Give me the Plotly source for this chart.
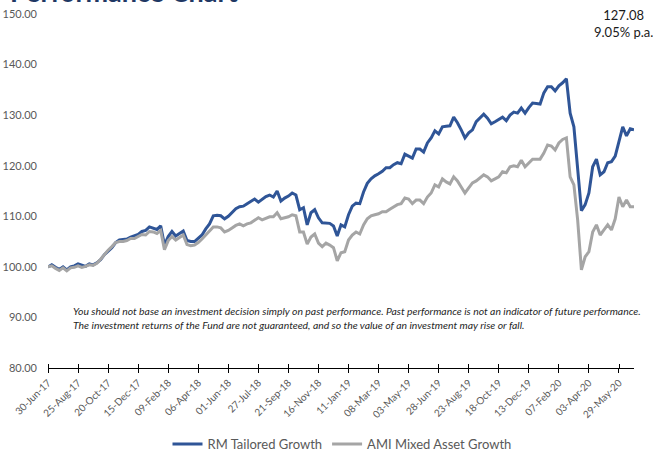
import pandas as pd
import plotly.graph_objects as go

# Weekly dates (Fridays) from 30-Jun-17 to 26-Jun-20
start_date = "2017-06-30"
n_weeks = 157

rm_tailored_growth = [
    100.0, 100.4, 99.9, 99.5, 100.0, 99.4, 100.0, 100.2, 100.6, 100.3,
    100.1, 100.6, 100.4, 100.8, 101.4, 102.4, 103.1, 103.8, 104.8, 105.3,
    105.4, 105.5, 105.9, 106.1, 106.4, 107.0, 107.2, 107.9, 107.6, 107.4,
    108.1, 104.3, 106.0, 107.0, 106.1, 106.6, 107.1, 105.2, 105.0, 105.0,
    105.7, 106.3, 107.5, 108.5, 110.1, 110.2, 110.1, 109.5, 110.0, 110.7,
    111.5, 111.9, 112.0, 112.5, 112.9, 113.4, 112.8, 113.4, 113.9, 114.2,
    113.8, 115.0, 113.0, 113.6, 114.0, 114.6, 114.2, 111.3, 111.7, 108.3,
    110.7, 111.3, 109.7, 108.7, 108.7, 108.6, 108.1, 106.1, 108.3, 107.9,
    110.3, 112.0, 112.6, 112.5, 114.8, 116.5, 117.4, 118.0, 118.4, 118.9,
    119.6, 119.6, 120.2, 120.6, 120.4, 122.3, 121.9, 121.5, 123.3, 123.3,
    122.7, 124.5, 125.5, 126.9, 126.3, 127.7, 127.8, 127.9, 129.6, 128.5,
    127.1, 125.5, 126.5, 127.1, 128.7, 129.4, 130.2, 129.4, 128.3, 128.7,
    129.1, 129.6, 128.9, 130.0, 130.6, 130.4, 131.4, 130.4, 131.5, 132.4,
    132.3, 132.2, 134.4, 135.6, 135.6, 134.8, 135.8, 136.4, 137.2, 130.4,
    127.7, 119.8, 111.1, 112.3, 114.6, 119.8, 121.3, 118.2, 118.8, 120.6,
    120.8, 121.9, 124.7, 127.7, 125.9, 127.3, 127.08,
]

ami_mixed_asset_growth = [
    100.0, 100.2, 99.7, 99.3, 99.8, 99.2, 99.8, 99.9, 100.2, 99.9,
    100.1, 100.4, 100.3, 100.7, 101.5, 102.5, 103.3, 104.0, 104.8, 105.0,
    105.0, 105.2, 105.6, 105.6, 106.0, 106.4, 106.3, 107.0, 106.9, 106.6,
    107.2, 103.4, 105.2, 106.0, 105.3, 105.8, 106.3, 104.4, 104.2, 104.3,
    104.8, 105.5, 106.3, 107.1, 107.9, 107.9, 107.7, 106.9, 107.2, 107.7,
    108.2, 108.5, 108.1, 108.5, 108.7, 109.2, 109.7, 109.3, 109.6, 109.9,
    109.9, 110.7, 109.5, 109.7, 109.9, 110.3, 110.1, 106.9, 106.9, 104.5,
    105.9, 106.5, 104.7, 104.0, 104.7, 104.3, 103.8, 101.2, 102.8, 103.0,
    105.3, 106.3, 106.9, 106.5, 108.3, 109.5, 110.1, 110.3, 110.5, 110.9,
    110.9, 111.4, 111.9, 112.3, 112.5, 113.6, 113.4, 112.5, 113.2, 113.2,
    112.5, 113.8, 114.6, 116.2, 115.8, 117.4, 116.8, 116.4, 117.8, 117.0,
    115.8, 114.6, 115.6, 116.6, 117.0, 117.6, 118.2, 117.8, 117.0, 117.4,
    117.8, 118.8, 118.6, 119.8, 120.0, 119.8, 121.1, 119.8, 120.6, 121.3,
    121.3, 121.3, 122.5, 124.1, 123.9, 123.1, 124.5, 125.2, 125.5, 117.8,
    116.2, 109.3, 99.4, 102.0, 103.0, 106.9, 108.3, 106.3, 107.3, 108.3,
    107.3, 109.5, 113.8, 111.9, 113.2, 111.9, 111.9,
]

tick_labels = [
    "30-Jun-17", "25-Aug-17", "20-Oct-17", "15-Dec-17", "09-Feb-18",
    "06-Apr-18", "01-Jun-18", "27-Jul-18", "21-Sep-18", "16-Nov-18",
    "11-Jan-19", "08-Mar-19", "03-May-19", "28-Jun-19", "23-Aug-19",
    "18-Oct-19", "13-Dec-19", "07-Feb-20", "03-Apr-20", "29-May-20",
]

ytick_vals = [80, 90, 100, 110, 120, 130, 140, 150]
ytick_text = ["80.00", "90.00", "100.00", "110.00", "120.00", "130.00", "140.00", "150.00"]

dates = pd.date_range(start_date, periods=n_weeks, freq="7D")
tick_dates = pd.to_datetime(tick_labels, format="%d-%b-%y")
minor_dates = [d + pd.Timedelta(hours=2) for d in tick_dates]

BLUE = "#2F5597"
GREY = "#A5A5A5"
TXT = "#595959"
FONT = "Lato, 'Open Sans', sans-serif"

W, H = 653, 452
ML, MR, MT, MB = 48, 19, 14, 84
PW, PH = W - ML - MR, H - MT - MB


def px_x(x):
    return (x - ML) / PW


def px_y(y):
    return (H - MB - y) / PH


fig = go.Figure()
fig.add_trace(go.Scatter(x=dates, y=rm_tailored_growth, mode="lines",
                         name="RM Tailored Growth",
                         line=dict(color=BLUE, width=3)))
fig.add_trace(go.Scatter(x=dates, y=ami_mixed_asset_growth, mode="lines",
                         name="AMI Mixed Asset Growth",
                         line=dict(color=GREY, width=3)))

fig.update_layout(
    width=W, height=H,
    margin=dict(l=ML, r=MR, t=MT, b=MB, autoexpand=False),
    paper_bgcolor="white", plot_bgcolor="white",
    font=dict(family=FONT, color=TXT),
    showlegend=True,
    legend=dict(orientation="h", x=px_x(342), xanchor="center", y=px_y(444), yanchor="middle",
                font=dict(size=13, color=TXT), itemwidth=30),
    xaxis=dict(
        type="date",
        range=[dates[0], dates[-1]],
        tickvals=list(tick_dates), ticktext=tick_labels,
        tickangle=-45, tickfont=dict(size=10, color=TXT),
        showline=True, linecolor="black", linewidth=1,
        ticks="outside", ticklen=4, tickcolor="black", tickwidth=1,
        minor=dict(tickvals=minor_dates, ticks="inside", ticklen=4,
                   tickcolor="black", tickwidth=1, showgrid=False),
        showgrid=False, zeroline=False,
    ),
    yaxis=dict(
        range=[80, 150],
        tickvals=ytick_vals, ticktext=ytick_text,
        tickfont=dict(size=11, color=TXT),
        showgrid=False, zeroline=False, showline=False,
        ticks="", ticklabelstandoff=10,
    ),
)

# Title (mostly cut off at the top)
fig.add_annotation(text="<b>Performance Chart</b>", xref="paper", yref="paper",
                   x=px_x(8), y=px_y(9.5), xanchor="left", yanchor="bottom",
                   showarrow=False, font=dict(size=27, color="#1F3864", family=FONT))

# Top-right value
fig.add_annotation(text="127.08<br>9.05% p.a.", xref="paper", yref="paper",
                   x=px_x(623), y=px_y(5), xanchor="center", yanchor="top",
                   align="center", showarrow=False,
                   font=dict(size=13, color="#1a1a1a", family=FONT))

# Disclaimer
fig.add_annotation(
    text="<i>You should not base an investment decision simply on past performance. Past performance is not an indicator of future performance.<br>"
         "The investment returns of the Fund are not guaranteed, and so the value of an investment may rise or fall.</i>",
    xref="paper", yref="paper", x=px_x(71), y=px_y(318),
    xanchor="left", yanchor="middle", align="left", showarrow=False,
    font=dict(size=10.4, color="#262626", family=FONT))

fig.write_html("out.html", config={"displayModeBar": False},
               post_script="document.body.style.margin='0';")
